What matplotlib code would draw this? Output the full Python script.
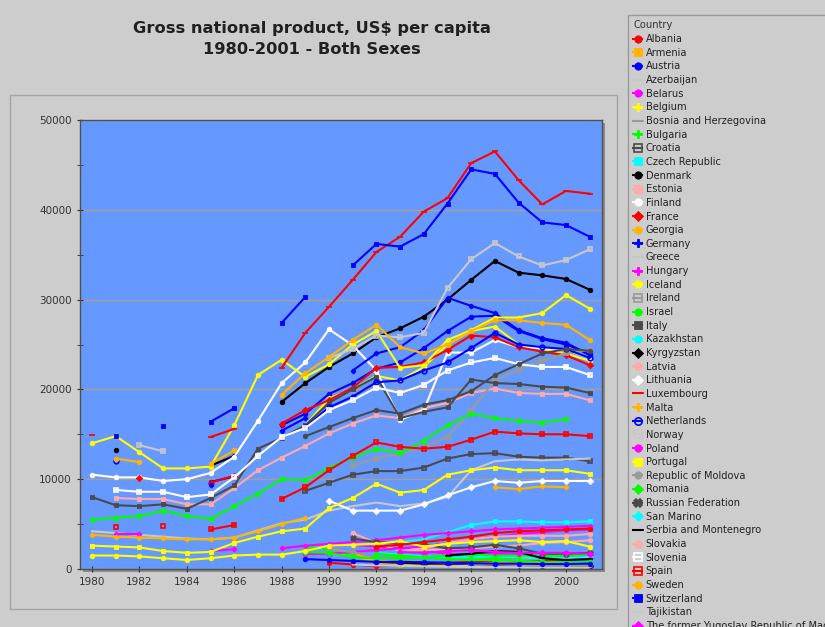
import numpy as np
import matplotlib.pyplot as plt
from matplotlib.patches import Rectangle
from matplotlib.ticker import MultipleLocator

N = np.nan
years = np.arange(1980, 2002)

# GNP per capita (US$), 1980..2001
albania = [N] * 10 + [700, 500, 300, 400, 600, 700, 800, 800, 800, 900, 1100, 1200]
armenia = [N] * 10 + [1800, 1500, 700, 500, 500, 500, 600, 600, 600, 500, 500, 600]
austria = [N, N, N, N, N, 9700, 10300, N, 16000, 17300, 19500, 20700, 22300, 23000, 24600, 26500, 28100, 28200, 26500, 25600, 25000, 24000]
azerbaijan = [N] * 10 + [1700, 1500, 1000, 700, 500, 400, 400, 500, 500, 600, 600, 650]
belarus = [N] * 10 + [2600, 2700, 2500, 2300, 2000, 1700, 1600, 1700, 1600, 1400, 1300, 1300]
belgium = [N] * 9 + [16000, 19000, 20000, 21500, 21000, 22500, 25000, 26500, 27000, 25000, 24500, 24000, 23200]
bosnia = [N] * 17 + [800, 1000, 1200, 1300, 1300]
bulgaria = [N] * 9 + [2500, 2200, 1500, 1200, 1300, 1300, 1400, 1200, 1200, 1300, 1400, 1500, 1600]
croatia = [N] * 9 + [8700, 9600, 10500, 10900, 10900, 11300, 12300, 12800, 12900, 12500, 12400, 12400, 12000]
czech = [N] * 13 + [3000, 3300, 4100, 4900, 5300, 5300, 5200, 5200, 5300]
denmark = [N, 13200, N, N, N, 11500, 12600, N, 18600, 20700, 22500, 24000, 25800, 26800, 28100, 30000, 32200, 34300, 33000, 32700, 32300, 31100]
estonia = [N, 7900, 7800, 7800, 7200, 7200, 9000, 11000, 12400, 13700, 15100, 16200, 17100, 16800, 17900, 18500, 19600, 20100, 19600, 19500, 19500, 18800]
finland = [10500, 10200, 10200, 9800, 10000, 10700, 12500, 16500, 20700, 23000, 26700, 24900, 22100, 16600, 17700, 24100, 24100, 25500, 24700, 24600, 24400, 23500]
france = [N, N, 10100, N, N, 9600, 10400, N, 16200, 17700, 18800, 20200, 22400, 22500, 23000, 24400, 26000, 25800, 24700, 24200, 23800, 22700]
georgia = [N] * 10 + [2200, 1800, 900, 600, 500, 500, 600, 700, 700, 650, 650, 650]
germany = [N, N, N, N, N, 9300, N, N, 15400, 16800, N, 22100, 24000, 24700, 26600, 30200, 29300, 28500, 26600, 25700, 25200, 23800]
greece = [4200, 4000, 3800, 3600, 3400, 3300, 3500, 4300, 5100, 5500, 6500, 7000, 7400, 7000, 7300, 8000, 11000, 12000, 12200, 12100, 12200, 12300]
hungary = [N, 3900, 3900, N, N, 2000, 2200, N, 2300, 2600, 2800, 3000, 3200, 3500, 3800, 4000, 4200, 4400, 4500, 4600, 4700, 4800]
iceland = [14000, 14800, 13000, 11200, 11200, 11400, 16000, 21600, 23300, 21400, 22800, 25000, 26500, 22400, 22700, 25500, 26600, 28000, 28000, 28500, 30500, 29000]
ireland = [N] * 11 + [11500, 12300, 12800, 13500, 14700, 17700, 21000, 22200, 23200, 24000, 24400]
israel = [5500, 5700, 5900, 6500, 5900, 5600, 7000, 8400, 10000, 9900, 11300, 12400, 13400, 12900, 14300, 16000, 17300, 16800, 16500, 16300, 16700, N]
italy = [8000, 7100, 7000, 7200, 6700, 7900, 9300, 13400, 14600, 16000, 18500, 20000, 21400, 16800, 17500, 18000, 21100, 20700, 20600, 20300, 20200, 19600]
kazakhstan = [N] * 12 + [1800, 1600, 1400, 1300, 1300, 1400, 1300, 1200, 1200, 1350]
kyrgyzstan = [N] * 12 + [800, 700, 600, 600, 550, 500, 400, 300, 280, 280]
latvia = [N] * 11 + [4000, 2900, 2000, 2100, 2200, 2300, 2500, 2600, 2900, 3000, 3200]
lithuania = [N] * 10 + [7600, 6500, 6500, 6500, 7200, 8200, 9100, 9800, 9600, 9800, 9800, 9800]
luxembourg = [14900, N, N, N, N, 14700, 15600, N, 22400, 26300, 29200, 32200, 35300, 37000, 39800, 41300, 45200, 46500, 43300, 40600, 42100, 41800]
malta = [3800, 3600, 3500, 3400, 3300, 3300, 3500, 4200, 5000, 5700, N, N, N, N, N, N, N, 9100, 8900, 9200, 9100, N]
netherlands = [N, 12000, N, N, N, N, N, N, N, 15800, 18000, 19200, 20800, 21000, 22100, 23000, 24600, 26300, 25000, 24700, 24500, 23500]
norway = [N, N, 13800, 13100, N, N, N, N, N, N, 23500, 24500, 26000, 25800, 26300, 31300, 34500, 36300, 34800, 33800, 34400, 35600]
poland = [N] * 9 + [1700, 1700, 1900, 2100, 2300, 2500, 2900, 3300, 3600, 3900, 4100, 4300, 4400]
portugal = [2600, 2500, 2400, 2000, 1800, 1900, 2900, 3600, 4200, 4500, 6800, 7900, 9500, 8500, 8800, 10500, 11000, 11300, 11000, 11000, 11000, 10600]
moldova = [N] * 10 + [2100, 1900, 1200, 1000, 800, 700, 600, 500, 450, 400, 380, 400]
romania = [N] * 9 + [1900, 1800, 1300, 1200, 1200, 1300, 1500, 1600, 1500, 1500, 1500, 1600, 1700]
russia = [N] * 11 + [3400, 3000, 2900, 2700, 2300, 2400, 2700, 2300, 1700, 1700, 1800]
san_marino = [N] * 22
serbia = [N] * 15 + [1500, 1700, 2000, 1900, 1200, 1000, 1100]
slovakia = [N] * 13 + [2000, 2300, 2900, 3300, 3600, 3700, 3700, 3700, 3900]
slovenia = [N, 8800, 8600, 8600, 8000, 8300, 10200, 12600, 14700, 15700, 17700, 18800, 20200, 19600, 20500, 22100, 23000, 23500, 22800, 22500, 22500, 21600]
spain = [N, 4700, N, 4800, N, 4400, 4900, N, 7800, 9100, 11000, 12600, 14100, 13600, 13400, 13600, 14400, 15300, 15100, 15000, 15000, 14800]
sweden = [N, 12300, 11900, N, N, 11700, 13200, N, 19400, 21800, 23600, 25500, 27200, 24700, 24000, 25000, 26500, 27700, 27700, 27400, 27200, 25500]
switzerland = [N, 14800, N, 15900, N, 16400, 17900, N, 27400, 30300, N, 33800, 36200, 35900, 37300, 40700, 44500, 44000, 40800, 38600, 38300, 37000]
tajikistan = [N] * 11 + [500, 400, 350, 300, 250, 220, 200, 200, 180, 170, 170]
macedonia = [N] * 13 + [1900, 1800, 2000, 2100, 1900, 1800, 1800, 1800, 1700]
turkey = [1500, 1500, 1400, 1200, 1000, 1200, 1500, 1600, 1600, 2000, 2600, 2700, 2800, 3100, 2500, 2800, 3000, 3100, 3200, 3000, 3100, 2500]
turkmenistan = [N] * 12 + [2500, 2700, 3000, 3300, 3600, 4000, 4200, 4300, 4400, 4500]
ukraine = [N] * 12 + [1700, 1500, 1300, 1100, 1000, 1000, 900, 800, 700, 750]
united_kingdom = [N] * 9 + [14800, 15800, 16800, 17700, 17300, 18300, 18800, 19800, 21600, 22800, 24000, 24500, 24300]
uzbekistan = [N] * 9 + [1100, 1000, 900, 800, 800, 750, 700, 650, 600, 600, 550, 550, 600]

countries = [
    ("Albania", albania), ("Armenia", armenia), ("Austria", austria),
    ("Azerbaijan", azerbaijan), ("Belarus", belarus), ("Belgium", belgium),
    ("Bosnia and Herzegovina", bosnia), ("Bulgaria", bulgaria),
    ("Croatia", croatia), ("Czech Republic", czech), ("Denmark", denmark),
    ("Estonia", estonia), ("Finland", finland), ("France", france),
    ("Georgia", georgia), ("Germany", germany), ("Greece", greece),
    ("Hungary", hungary), ("Iceland", iceland), ("Ireland", ireland),
    ("Israel", israel), ("Italy", italy), ("Kazakhstan", kazakhstan),
    ("Kyrgyzstan", kyrgyzstan), ("Latvia", latvia), ("Lithuania", lithuania),
    ("Luxembourg", luxembourg), ("Malta", malta), ("Netherlands", netherlands),
    ("Norway", norway), ("Poland", poland), ("Portugal", portugal),
    ("Republic of Moldova", moldova), ("Romania", romania),
    ("Russian Federation", russia), ("San Marino", san_marino),
    ("Serbia and Montenegro", serbia), ("Slovakia", slovakia),
    ("Slovenia", slovenia), ("Spain", spain), ("Sweden", sweden),
    ("Switzerland", switzerland), ("Tajikistan", tajikistan),
    ("The former Yugoslav Republic of Macedonia", macedonia),
    ("Turkey", turkey), ("Turkmenistan", turkmenistan), ("Ukraine", ukraine),
    ("United Kingdom", united_kingdom), ("Uzbekistan", uzbekistan),
]

RED, ORANGE, BLUE, LGRAY = "#ff0000", "#ffb400", "#0000ff", "#c8c8c8"
MAGENTA, YELLOW, GRAY, GREEN = "#ff00ff", "#ffff00", "#9a9a9a", "#00ff00"
DGRAY, CYAN, BLACK, PINK, WHITE = "#4a4a4a", "#00ffff", "#000000", "#ffaaaa", "#ffffff"

# color, marker, hollow
styles = {
    "Albania": (RED, "o", False), "Armenia": (ORANGE, "s", False),
    "Austria": (BLUE, "o", False), "Azerbaijan": (LGRAY, "", False),
    "Belarus": (MAGENTA, "o", False), "Belgium": (YELLOW, "P", False),
    "Bosnia and Herzegovina": (GRAY, "_", False), "Bulgaria": (GREEN, "P", False),
    "Croatia": (DGRAY, "s", True), "Czech Republic": (CYAN, "s", False),
    "Denmark": (BLACK, "o", False), "Estonia": (PINK, "s", False),
    "Finland": (WHITE, "o", False), "France": (RED, "D", False),
    "Georgia": (ORANGE, "o", False), "Germany": (BLUE, "P", False),
    "Greece": (LGRAY, "", False), "Hungary": (MAGENTA, "P", False),
    "Iceland": (YELLOW, "o", False), "Ireland": (GRAY, "s", True),
    "Israel": (GREEN, "o", False), "Italy": (DGRAY, "s", False),
    "Kazakhstan": (CYAN, "o", False), "Kyrgyzstan": (BLACK, "D", False),
    "Latvia": (PINK, "o", False), "Lithuania": (WHITE, "D", False),
    "Luxembourg": (RED, "_", False), "Malta": (ORANGE, "P", False),
    "Netherlands": (BLUE, "o", True), "Norway": (LGRAY, "s", True),
    "Poland": (MAGENTA, "o", False), "Portugal": (YELLOW, "s", False),
    "Republic of Moldova": (GRAY, "o", False), "Romania": (GREEN, "D", False),
    "Russian Federation": (DGRAY, "X", False), "San Marino": (CYAN, "D", False),
    "Serbia and Montenegro": (BLACK, "_", False), "Slovakia": (PINK, "o", False),
    "Slovenia": (WHITE, "s", True), "Spain": (RED, "s", True),
    "Sweden": (ORANGE, "o", False), "Switzerland": (BLUE, "s", False),
    "Tajikistan": (LGRAY, "", False),
    "The former Yugoslav Republic of Macedonia": (MAGENTA, "D", False),
    "Turkey": (YELLOW, "o", False), "Turkmenistan": (RED, "o", False),
    "Ukraine": (GREEN, "o", False), "United Kingdom": (DGRAY, "o", False),
    "Uzbekistan": (BLUE, "o", False),
}

BG = "#cdcdcd"
fig = plt.figure(figsize=(8.25, 6.27), dpi=100, facecolor=BG)
W, H = 825, 627

# inner panel frame
fig.patches.append(Rectangle((10 / W, 1 - 609 / H), 607 / W, 514 / H, transform=fig.transFigure,
                             fill=False, edgecolor="#a4a4a4", lw=1, zorder=-2))
# shadow of the plot area
fig.patches.append(Rectangle((83 / W, 1 - 572 / H), 522 / W, 449 / H, transform=fig.transFigure,
                             facecolor="#8a8a8a", edgecolor="none", zorder=-1))

ax = fig.add_axes([80 / W, 1 - 569 / H, 522 / W, 449 / H])
ax.set_zorder(2)
ax.set_facecolor("#6699ff")

handles = []
for name, vals in countries:
    color, marker, hollow = styles[name]
    v = np.array(vals, dtype=float)
    assert len(v) == len(years)
    ms = 5 if marker == "_" else 3.3
    ln, = ax.plot(years, v, color=color, lw=1.5, marker=marker if marker else None,
                  ms=ms, mew=1.2 if hollow or marker in ("_", "X") else 0.6,
                  mfc="none" if hollow else color, mec=color, label=name)
    handles.append(ln)

ax.set_xlim(1979.49, 2001.52)
ax.set_ylim(0, 50000)
ax.xaxis.set_major_locator(MultipleLocator(2))
ax.yaxis.set_major_locator(MultipleLocator(10000))
ax.yaxis.set_minor_locator(MultipleLocator(5000))
ax.grid(axis="y", which="major", color="#a89f8c", lw=1)
ax.set_axisbelow(True)
ax.tick_params(axis="both", which="both", direction="inout", colors="#303030",
               labelsize=7.5, labelcolor="#333333")
ax.tick_params(axis="both", which="major", length=5)
ax.tick_params(axis="y", which="minor", length=4)
for s in ax.spines.values():
    s.set_color("#505050")
    s.set_linewidth(1)

fig.text(312 / W, 1 - 28 / H, "Gross national product, US$ per capita",
         ha="center", va="center", fontsize=11.7, fontweight="bold", color="#202020")
fig.text(312 / W, 1 - 49 / H, "1980-2001 - Both Sexes",
         ha="center", va="center", fontsize=11.7, fontweight="bold", color="#202020")

leg = fig.legend(handles=handles, loc="upper left", bbox_to_anchor=(628 / W, 1 - 15 / H),
                 title="Country", fontsize=7.1, title_fontsize=7.1, frameon=True,
                 fancybox=False, edgecolor="#9a9a9a", facecolor=BG, framealpha=1,
                 borderaxespad=0, borderpad=0.55, labelspacing=0.37, handlelength=0.9,
                 handletextpad=0.35, markerscale=1.6)
leg._legend_box.align = "left"
for t in leg.get_texts():
    t.set_color("#222222")
leg.get_title().set_color("#333333")

fig.savefig("out.png", dpi=100, facecolor=BG)
